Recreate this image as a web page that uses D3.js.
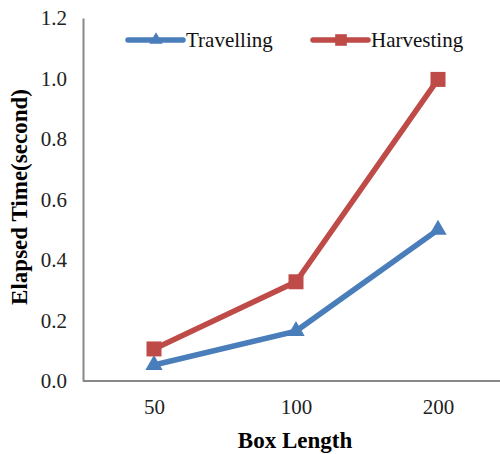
<!DOCTYPE html>
<html>
<head>
<meta charset="utf-8">
<script src="https://cdn.jsdelivr.net/npm/d3@7"></script>
<style>
  body { margin: 0; background: #fff; }
  text { font-family: "Liberation Serif", "Times New Roman", serif; }
</style>
</head>
<body>
<svg id="chart"></svg>
<script>
const width = 500;
const height = 454;

// data
const boxLengths = ["50", "100", "200"];
const travelling = [0.053, 0.165, 0.5];
const harvesting = [0.106, 0.328, 0.997];
const yTicks = [0, 0.2, 0.4, 0.6, 0.8, 1.0, 1.2];

const blue = "#4a7ebb";
const red = "#be4b48";

const margin = { left: 83, right: -9, top: 18, bottom: 73 };

const svg = d3.select("#chart")
    .attr("width", width)
    .attr("height", height);

const x = d3.scalePoint()
    .domain(boxLengths)
    .range([margin.left, width - margin.right])
    .padding(0.5);

const y = d3.scaleLinear()
    .domain([0, 1.2])
    .range([height - margin.bottom, margin.top]);

// y axis
const yAxis = svg.append("g")
    .attr("transform", `translate(${margin.left},0)`)
    .call(d3.axisLeft(y).tickValues(yTicks).tickFormat(d3.format(".1f")).tickSize(0).tickPadding(16));
yAxis.select(".domain").attr("stroke", "#888").attr("stroke-width", 2);
yAxis.selectAll("text").style("font-size", "21px").attr("fill", "#222");

// x axis
const xAxis = svg.append("g")
    .attr("transform", `translate(0,${y(0)})`)
    .call(d3.axisBottom(x).tickSize(0).tickPadding(18));
xAxis.select(".domain").attr("stroke", "#888").attr("stroke-width", 2)
    .attr("d", `M${margin.left},0H${width}`);
xAxis.selectAll("text").style("font-size", "21px").attr("fill", "#222");

// axis titles
svg.append("text")
    .attr("x", 295).attr("y", 448)
    .attr("text-anchor", "middle")
    .style("font-size", "23px").attr("font-weight", "bold")
    .text("Box Length");

svg.append("text")
    .attr("transform", `translate(27,197) rotate(-90)`)
    .attr("text-anchor", "middle")
    .style("font-size", "23px").attr("font-weight", "bold")
    .text("Elapsed Time(second)");

const line = d3.line()
    .x((d, i) => x(boxLengths[i]))
    .y(d => y(d));

const series = [
    { name: "Travelling", values: travelling, color: blue, symbol: d3.symbolTriangle, size: 130 },
    { name: "Harvesting", values: harvesting, color: red, symbol: d3.symbolSquare, size: 225 }
];

series.forEach(s => {
    svg.append("path")
        .datum(s.values)
        .attr("fill", "none")
        .attr("stroke", s.color)
        .attr("stroke-width", 5.5)
        .attr("d", line);

    svg.selectAll(null)
        .data(s.values)
        .enter().append("path")
        .attr("transform", (d, i) => `translate(${x(boxLengths[i])},${y(d)})`)
        .attr("d", d3.symbol().type(s.symbol).size(s.size))
        .attr("fill", s.color);
});

// legend
const legendX = [128, 313];
series.forEach((s, i) => {
    const lg = svg.append("g").attr("transform", `translate(${legendX[i]},40)`);
    lg.append("line")
        .attr("x1", 0).attr("x2", 55)
        .attr("stroke", s.color).attr("stroke-width", 5.5)
        .attr("stroke-linecap", "round");
    lg.append("path")
        .attr("transform", "translate(28,0)")
        .attr("d", d3.symbol().type(s.symbol).size(s.size * 0.6))
        .attr("fill", s.color);
    lg.append("text")
        .attr("x", 58).attr("y", 7)
        .style("font-size", "21px")
        .attr("fill", "#111")
        .text(s.name);
});
</script>
</body>
</html>
